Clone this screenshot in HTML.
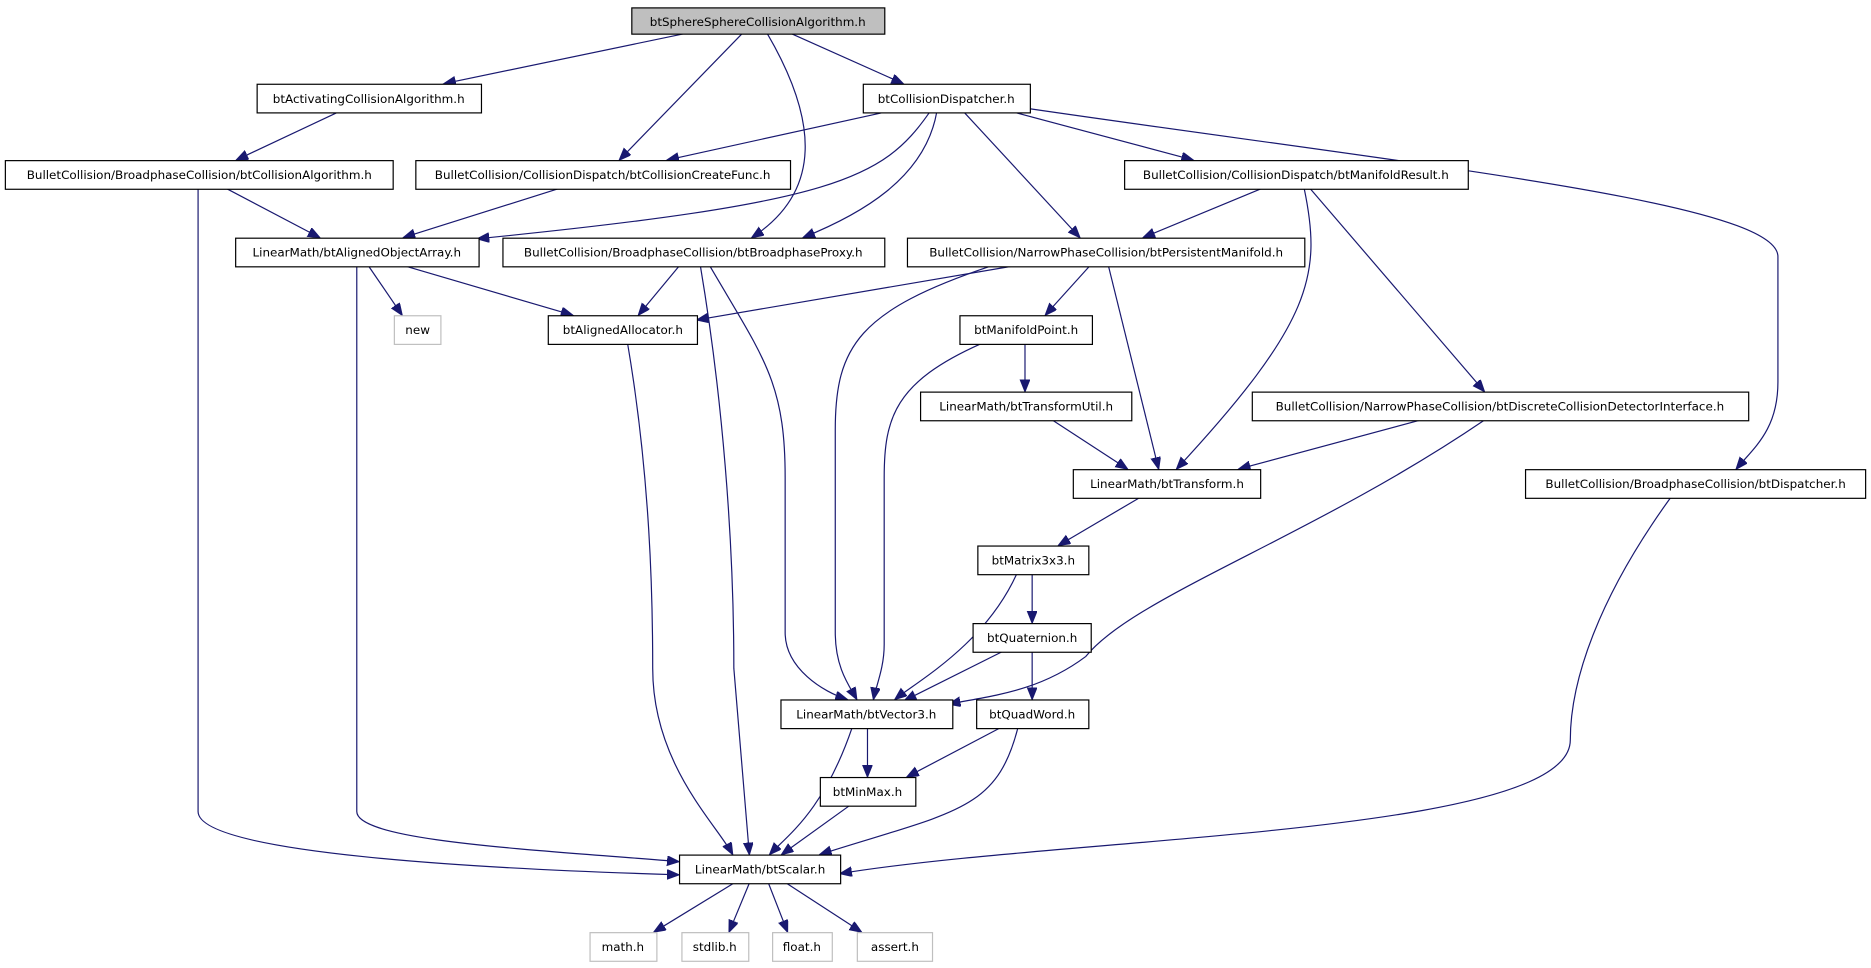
<!DOCTYPE html>
<html><head><meta charset="utf-8"><style>
html,body{margin:0;padding:0;background:#fff;}
svg{display:block;}
text{font-family:"DejaVu Sans","Liberation Sans",sans-serif;font-size:10px;fill:#000;}
.e{fill:none;stroke:#191970;stroke-width:1;}
.n{fill:#fff;stroke:#000;stroke-width:1;}
.g{fill:#fff;stroke:#bfbfbf;stroke-width:1;}
</style></head><body>
<svg width="1871" height="968" viewBox="0 0 1568 811" xmlns="http://www.w3.org/2000/svg">
<defs>
<marker id="a" markerUnits="userSpaceOnUse" markerWidth="12" markerHeight="10" refX="10" refY="4" orient="auto">
<path d="M0,0 L10,4 L0,8 z" fill="#191970" stroke="#191970"/>
</marker>
</defs>
<g marker-end="url(#a)">
<path class="e" d="M574,28 L372,70"/>
<path class="e" d="M622,28 L519,134"/>
<path class="e" d="M643,28 C685,100 690,160 630,199"/>
<path class="e" d="M663,28 L757,70"/>
<path class="e" d="M283,94 L198,134"/>
<path class="e" d="M741,94 L559,134"/>
<path class="e" d="M779,94 C740,150 700,170 400,200"/>
<path class="e" d="M785,94 C775,150 720,180 673,199"/>
<path class="e" d="M808,94 L905,199"/>
<path class="e" d="M850,94 L1000,134"/>
<path class="e" d="M863,91 C1200,140 1490,170 1490,215 L1490,320 C1490,360 1470,375 1455,393"/>
<path class="e" d="M190,158 L268,199"/>
<path class="e" d="M166,158 L166,680 C166,715 400,728 569,733"/>
<path class="e" d="M468,158 L338,199"/>
<path class="e" d="M1057,158 L958,199"/>
<path class="e" d="M1093,158 C1108,230 1100,270 986,393"/>
<path class="e" d="M1098,158 L1244,328"/>
<path class="e" d="M309,223 L337,264"/>
<path class="e" d="M340,223 L480,264"/>
<path class="e" d="M299,223 L299,680 C299,705 450,712 569,722"/>
<path class="e" d="M569,223 L535,264"/>
<path class="e" d="M587,223 C605,330 615,450 615,560 L628,716"/>
<path class="e" d="M595,223 C640,300 658,320 658,400 L658,530 C658,560 690,580 710,586"/>
<path class="e" d="M848,223 L584,268"/>
<path class="e" d="M830,223 C720,260 700,290 700,360 L700,530 C700,560 712,575 718,586"/>
<path class="e" d="M913,223 L876,264"/>
<path class="e" d="M929,223 L971,393"/>
<path class="e" d="M526,288 C545,400 547,500 547,560 C547,640 600,690 614,716"/>
<path class="e" d="M822,288 C750,320 741,350 741,400 L741,540 C741,560 734,575 732,586"/>
<path class="e" d="M859,288 L859,328"/>
<path class="e" d="M882,352 L945,393"/>
<path class="e" d="M1190,352 L1038,393"/>
<path class="e" d="M1244,352 C1100,450 950,500 910,550 C870,580 830,583 795,590"/>
<path class="e" d="M955,417 L887,457"/>
<path class="e" d="M1400,417 C1340,500 1316,570 1316,620 C1316,700 900,700 704,732"/>
<path class="e" d="M865,481 L865,522"/>
<path class="e" d="M852,481 C825,540 770,570 750,586"/>
<path class="e" d="M840,546 L758,587"/>
<path class="e" d="M865,546 L865,586"/>
<path class="e" d="M727,610 L727,651"/>
<path class="e" d="M714,610 C690,680 660,700 645,716"/>
<path class="e" d="M838,610 L760,651"/>
<path class="e" d="M853,610 C835,680 800,680 687,716"/>
<path class="e" d="M712,675 L655,716"/>
<path class="e" d="M615,740 L548,781"/>
<path class="e" d="M628,740 L611,781"/>
<path class="e" d="M644,740 L660,781"/>
<path class="e" d="M659,740 L722,781"/>
</g>
<rect x="529.5" y="6.5" width="212" height="22" fill="#bfbfbf" stroke="#000"/><text x="635" y="21.5" text-anchor="middle">btSphereSphereCollisionAlgorithm.h</text>
<rect class="n" x="215.5" y="70.5" width="188" height="24"/><text x="309" y="86" text-anchor="middle">btActivatingCollisionAlgorithm.h</text>
<rect class="n" x="723.5" y="70.5" width="140" height="24"/><text x="793" y="86" text-anchor="middle">btCollisionDispatcher.h</text>
<rect class="n" x="4.5" y="134.5" width="325" height="24"/><text x="167" y="150" text-anchor="middle">BulletCollision/BroadphaseCollision/btCollisionAlgorithm.h</text>
<rect class="n" x="348.5" y="134.5" width="314" height="24"/><text x="505" y="150" text-anchor="middle">BulletCollision/CollisionDispatch/btCollisionCreateFunc.h</text>
<rect class="n" x="942.5" y="134.5" width="288" height="24"/><text x="1086" y="150" text-anchor="middle">BulletCollision/CollisionDispatch/btManifoldResult.h</text>
<rect class="n" x="197.5" y="199.5" width="204" height="24"/><text x="299" y="215" text-anchor="middle">LinearMath/btAlignedObjectArray.h</text>
<rect class="n" x="421.5" y="199.5" width="320" height="24"/><text x="581" y="215" text-anchor="middle">BulletCollision/BroadphaseCollision/btBroadphaseProxy.h</text>
<rect class="n" x="760.5" y="199.5" width="333" height="24"/><text x="927" y="215" text-anchor="middle">BulletCollision/NarrowPhaseCollision/btPersistentManifold.h</text>
<rect class="g" x="330.5" y="264.5" width="39" height="24"/><text x="350" y="280" text-anchor="middle">new</text>
<rect class="n" x="459.5" y="264.5" width="125" height="24"/><text x="522" y="280" text-anchor="middle">btAlignedAllocator.h</text>
<rect class="n" x="804.5" y="264.5" width="111" height="24"/><text x="860" y="280" text-anchor="middle">btManifoldPoint.h</text>
<rect class="n" x="771.5" y="328.5" width="177" height="24"/><text x="860" y="344" text-anchor="middle">LinearMath/btTransformUtil.h</text>
<rect class="n" x="1049.5" y="328.5" width="416" height="24"/><text x="1257" y="344" text-anchor="middle">BulletCollision/NarrowPhaseCollision/btDiscreteCollisionDetectorInterface.h</text>
<rect class="n" x="899.5" y="393.5" width="157" height="24"/><text x="978" y="409" text-anchor="middle">LinearMath/btTransform.h</text>
<rect class="n" x="1278.5" y="393.5" width="285" height="24"/><text x="1421" y="409" text-anchor="middle">BulletCollision/BroadphaseCollision/btDispatcher.h</text>
<rect class="n" x="819.5" y="457.5" width="93" height="24"/><text x="866" y="473" text-anchor="middle">btMatrix3x3.h</text>
<rect class="n" x="815.5" y="522.5" width="99" height="24"/><text x="865" y="538" text-anchor="middle">btQuaternion.h</text>
<rect class="n" x="654.5" y="586.5" width="144" height="24"/><text x="726" y="602" text-anchor="middle">LinearMath/btVector3.h</text>
<rect class="n" x="818.5" y="586.5" width="94" height="24"/><text x="865" y="602" text-anchor="middle">btQuadWord.h</text>
<rect class="n" x="687.5" y="651.5" width="80" height="24"/><text x="727" y="667" text-anchor="middle">btMinMax.h</text>
<rect class="n" x="569.5" y="716.5" width="135" height="24"/><text x="637" y="732" text-anchor="middle">LinearMath/btScalar.h</text>
<rect class="g" x="494.5" y="781.5" width="56" height="24"/><text x="522" y="797" text-anchor="middle">math.h</text>
<rect class="g" x="571.5" y="781.5" width="56" height="24"/><text x="599" y="797" text-anchor="middle">stdlib.h</text>
<rect class="g" x="647.5" y="781.5" width="50" height="24"/><text x="672" y="797" text-anchor="middle">float.h</text>
<rect class="g" x="718.5" y="781.5" width="63" height="24"/><text x="750" y="797" text-anchor="middle">assert.h</text>
</svg>
</body></html>
